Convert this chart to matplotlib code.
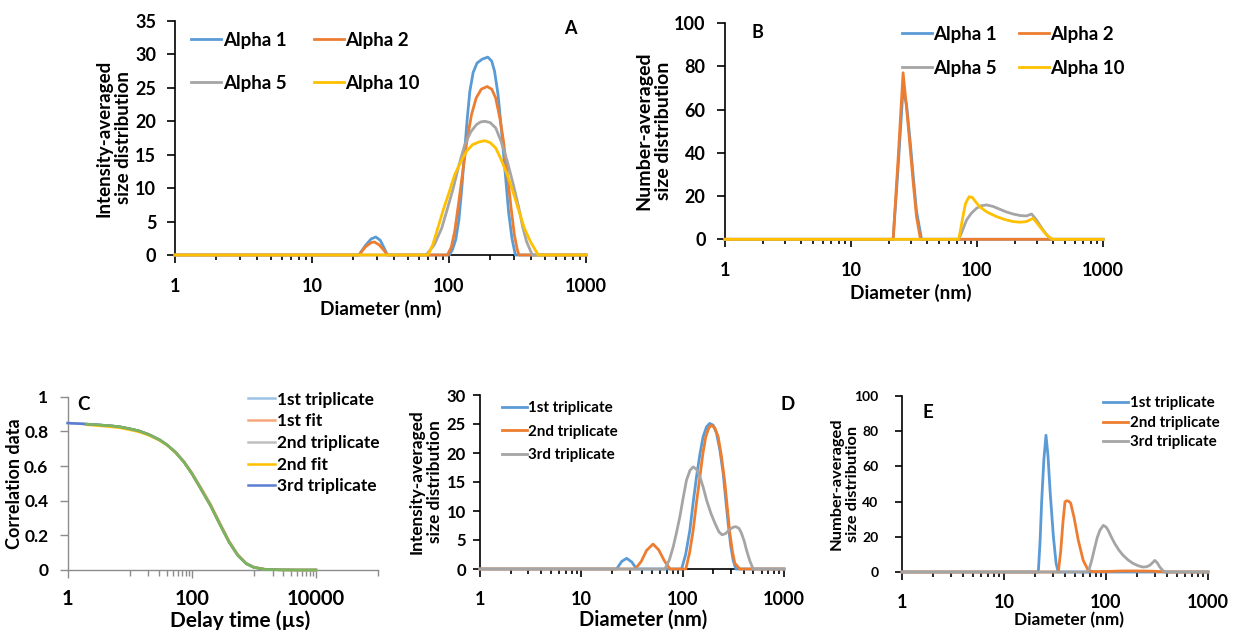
import matplotlib
matplotlib.use("Agg")
import matplotlib.pyplot as plt
from matplotlib.ticker import FixedLocator, FixedFormatter, NullFormatter

plt.rcParams['font.family'] = ['Lato', 'DejaVu Sans']
plt.rcParams['font.weight'] = 'bold'

# ---------------- data ----------------
# Panel A: intensity-averaged size distribution (diameter nm, %)
a1_d = [1, 22.0, 24.5, 27.0, 29.2, 31.5, 33.5, 35.5, 100.6, 106, 112, 118, 124, 130, 136, 142, 150,
        160, 175, 192, 205, 215, 228, 242, 258, 272, 288, 305, 1000]
a1_v = [0, 0, 1.4, 2.4, 2.7, 2.2, 1.1, 0, 0, 0.8, 2.3, 5.2, 10.0, 15.5, 20.5, 24.5, 27.3,
        28.7, 29.3, 29.6, 29.0, 27.5, 24.0, 18.5, 12.0, 6.5, 2.5, 0, 0]
a2_d = [1, 22.0, 24.5, 27.0, 28.5, 31.0, 33.5, 35.5, 97.5, 104, 110, 118, 127, 135, 146, 158, 172,
        190, 205, 219, 235, 250, 267, 284, 300, 315, 324, 1000]
a2_v = [0, 0, 1.2, 1.85, 1.95, 1.5, 0.7, 0, 0, 1.2, 3.5, 8.0, 13.0, 17.0, 21.0, 23.5, 24.8,
        25.2, 24.8, 23.5, 20.5, 17.0, 12.0, 7.0, 3.0, 0.8, 0, 0]
a5_d = [1, 68.2, 78, 88.4, 97, 107.4, 118, 130.4, 144, 158.5, 170, 182.7, 200, 219.3, 240, 266.3,
        295, 323.7, 345, 368.4, 405.7, 1000]
a5_v = [0, 0, 1.5, 4.0, 6.8, 10.0, 13.4, 16.5, 18.4, 19.5, 19.9, 20.0, 19.8, 19.0, 17.0, 14.0,
        10.5, 7.0, 4.2, 2.0, 0, 0]
a10_d = [1, 70.4, 76, 82.8, 91, 100.6, 110, 122.3, 134, 148.5, 165, 182.7, 200, 219.3, 240, 266.3,
         295, 323.7, 355, 393, 447.7, 1000]
a10_v = [0, 0, 1.5, 4.0, 6.8, 9.5, 12.0, 14.0, 15.5, 16.5, 16.9, 17.1, 16.8, 16.0, 14.3, 12.0,
         9.3, 6.6, 4.0, 2.0, 0, 0]

# Panel B: number-averaged size distribution
b1_d = [1, 21.6, 23.7, 25.9, 27.6, 29.3, 31.2, 33.1, 36.3, 1000]
b1_v = [0, 0, 34, 70, 62, 47, 29, 13, 0, 0]
b2_d = [1, 21.6, 23.7, 25.9, 27.6, 29.3, 31.2, 33.1, 35.6, 1000]
b2_v = [0, 0, 38, 77, 61, 44, 26, 10.5, 0, 0]
b5_d = [1, 71.7, 76, 82.6, 90, 99, 108, 119, 134, 151.6, 170, 193, 220, 247, 271, 297, 334, 377, 395, 1000]
b5_v = [0, 0, 3.5, 8.9, 12.0, 14.3, 15.5, 15.9, 15.2, 13.9, 12.7, 11.7, 11.0, 10.8, 11.7, 8.9, 4.3, 0.5, 0, 0]
b10_d = [1, 71.7, 77.6, 81, 86.6, 92, 97, 104.8, 120, 142.8, 165, 193, 220, 247, 279, 316, 356, 390, 400, 1000]
b10_v = [0, 0, 11.0, 16.5, 19.7, 19.3, 17.5, 15.1, 12.6, 10.5, 9.2, 8.2, 7.9, 8.2, 9.7, 5.8, 2.0, 0.3, 0, 0]

# Panel C: correlation functions (delay time us)
c_t = [1, 2, 3, 5, 7, 10, 14, 20, 30, 40, 55, 75, 100, 140, 200, 280, 400, 550, 750, 1000,
       1500, 2500, 5000, 10000]
c_trip1 = [0.848, 0.842, 0.838, 0.832, 0.826, 0.815, 0.803, 0.783, 0.752, 0.722, 0.678, 0.622, 0.557,
           0.468, 0.372, 0.267, 0.160, 0.085, 0.037, 0.015, 0.004, 0.001, 0, 0]
c_fit1 = [0.848, 0.842, 0.838, 0.832, 0.826, 0.815, 0.803, 0.783, 0.752, 0.722, 0.680, 0.626, 0.563,
          0.476, 0.381, 0.276, 0.167, 0.090, 0.040, 0.017, 0.005, 0.001, 0, 0]
c_trip2 = c_trip1
c_fit2 = [0.846, 0.838, 0.833, 0.826, 0.820, 0.809, 0.797, 0.778, 0.748, 0.719, 0.676, 0.621, 0.556,
          0.467, 0.371, 0.266, 0.159, 0.085, 0.037, 0.015, 0.004, 0.001, 0, 0]
c_trip3 = c_trip1
c_fit3 = c_trip1

# Panel D: intensity-averaged, triplicates
d1_d = [1, 22.3, 25, 28, 31.5, 35.1, 97.5, 107, 117.8, 127, 137, 148, 159, 172, 185, 200, 216, 233,
        251, 266, 281, 298, 315, 335, 1000]
d1_v = [0, 0, 1.3, 1.84, 1.2, 0, 0, 2.5, 6.7, 11.5, 15.9, 19.8, 22.8, 24.5, 25.1, 24.8, 23.4, 20.5,
        16.5, 12.0, 7.9, 4.0, 1.5, 0, 0]
d2_d = [1, 34, 39, 44, 51, 58, 66, 75, 107.5, 117, 127, 137, 148, 158, 169, 181, 193, 208, 224, 242,
        261, 276, 292, 310, 327, 366, 1000]
d2_v = [0, 0, 1.3, 3.2, 4.3, 3.3, 1.4, 0, 0, 2.8, 6.7, 11.5, 15.9, 19.8, 22.8, 24.3, 24.8, 24.3, 22.8,
        19.3, 14.8, 10.5, 6.2, 3.0, 1.0, 0, 0]
d3_d = [1, 66.7, 74, 80.6, 87, 93.8, 101, 109, 118, 127, 137, 148, 160, 172, 190, 208, 228, 245, 265,
        290, 315, 335, 360, 380, 405, 426, 460, 496, 1000]
d3_v = [0, 0, 1.6, 3.8, 6.3, 9.0, 12.2, 15.3, 17.0, 17.6, 17.2, 15.9, 14.0, 11.9, 9.6, 7.9, 6.4, 5.9,
        6.1, 6.8, 7.2, 7.3, 7.0, 6.2, 4.8, 3.3, 1.4, 0, 0]

# Panel E: number-averaged, triplicates
e1_d = [1, 21.7, 22.6, 23.4, 24.6, 25.8, 27.0, 28.3, 30.5, 32.4, 34.0, 1000]
e1_v = [0, 0, 18, 40, 64, 77.7, 66, 46, 20, 5, 0, 0]
e2_d = [1, 34.1, 36.0, 37.8, 39.6, 41.1, 43.0, 45.0, 48.5, 53.5, 59.8, 67, 75, 100, 150, 200, 260,
        330, 400, 1000]
e2_v = [0, 0, 12, 28, 39.8, 40.5, 40.2, 39.2, 31.3, 18, 6.6, 0.9, 0.2, 0.3, 0.6, 0.6, 0.5, 0.3, 0, 0]
e3_d = [1, 67, 72, 77.8, 82, 87.1, 94, 100, 105, 113, 122, 134, 147, 165, 185, 208, 231, 250, 269,
        285, 301, 318, 337, 360, 377, 1000]
e3_v = [0, 0, 6, 14.2, 19.5, 23.7, 26.5, 25.6, 23.7, 19.8, 16.1, 12.4, 9.5, 6.8, 4.8, 3.5, 2.8, 3.0,
        3.8, 5.2, 6.6, 5.2, 2.8, 0.9, 0, 0]

diam_ticks = [1, 10, 100, 1000]
diam_labels = ['1', '10', '100', '1000']
time_ticks = [1, 100, 10000]
time_labels = ['1', '100', '10000']

alpha_labels = ['Alpha 1', 'Alpha 2', 'Alpha 5', 'Alpha 10']
corr_labels = ['1st triplicate', '1st fit', '2nd triplicate', '2nd fit', '3rd triplicate']
trip_labels = ['1st triplicate', '2nd triplicate', '3rd triplicate']

BLUE, ORANGE, GRAY, YELLOW = '#5B9BD5', '#ED7D31', '#A5A5A5', '#FFC000'

# ---------------- figure ----------------
W, H = 1233, 630
fig = plt.figure(figsize=(W / 100, H / 100), dpi=100)


def px_axes(l, r, t, b):
    return fig.add_axes([l / W, 1 - b / H, (r - l) / W, (b - t) / H])


def fig_xy(x, y):
    return (x / W, 1 - y / H)


def style(ax, spine_color='black', lw=1.2):
    for s in ['top', 'right']:
        ax.spines[s].set_visible(False)
    for s in ['left', 'bottom']:
        ax.spines[s].set_color(spine_color)
        ax.spines[s].set_linewidth(lw)
        ax.spines[s].set_zorder(1)
    ax.tick_params(which='both', direction='out', color=spine_color, width=lw)


def diam_axis(ax, xfs, xpad):
    ax.set_xscale('log')
    ax.set_xlim(1, 1000)
    ax.xaxis.set_major_locator(FixedLocator(diam_ticks))
    ax.xaxis.set_major_formatter(FixedFormatter(diam_labels))
    ax.xaxis.set_minor_locator(FixedLocator([k * 10 ** e for e in range(3) for k in range(2, 10)]))
    ax.xaxis.set_minor_formatter(NullFormatter())
    ax.tick_params(axis='x', which='major', length=5.5, labelsize=xfs, pad=xpad)
    ax.tick_params(axis='x', which='minor', length=3.5)


def draw(ax, xs, ys, color, label=None, lw=2.0, alpha=1.0):
    ln, = ax.plot(xs, ys, color=color, lw=lw, label=label, clip_on=False, zorder=3,
                  solid_joinstyle='round', alpha=alpha)
    return ln


# ---- Panel A ----
axA = px_axes(175, 586, 21, 255)
style(axA)
diam_axis(axA, 13, 11)
axA.set_ylim(0, 35)
axA.set_yticks(range(0, 36, 5))
axA.tick_params(axis='y', length=5.5, labelsize=13, pad=8)
lA = [draw(axA, a1_d, a1_v, BLUE, alpha_labels[0]),
      draw(axA, a2_d, a2_v, ORANGE, alpha_labels[1]),
      draw(axA, a5_d, a5_v, GRAY, alpha_labels[2]),
      draw(axA, a10_d, a10_v, YELLOW, alpha_labels[3])]
axA.set_xlabel('Diameter (nm)', fontsize=13.8, fontweight='bold')
axA.xaxis.set_label_coords(0.5, -0.19)
axA.set_ylabel('Intensity-averaged\nsize distribution', fontsize=13.5, fontweight='bold',
               linespacing=1.2)
axA.yaxis.set_label_coords(-0.105, 0.5)
axA.legend([lA[0], lA[2], lA[1], lA[3]], [alpha_labels[0], alpha_labels[2], alpha_labels[1], alpha_labels[3]],
           ncol=2, loc='upper left', bbox_to_anchor=fig_xy(191, 32), bbox_transform=fig.transFigure,
           frameon=False, borderpad=0, borderaxespad=0, handlelength=1.6, handletextpad=0.1,
           columnspacing=1.45, labelspacing=1.37, prop={'size': 13.5, 'weight': 'bold'})
fig.text(*fig_xy(570, 28), 'A', ha='center', va='center', fontsize=13, fontweight='bold')

# ---- Panel B ----
axB = px_axes(725, 1103, 23, 239.3)
style(axB)
diam_axis(axB, 13, 11)
axB.set_ylim(0, 100)
axB.set_yticks(range(0, 101, 20))
axB.tick_params(axis='y', length=6, labelsize=13, pad=8)
lB = [draw(axB, b1_d, b1_v, BLUE, alpha_labels[0]),
      draw(axB, b2_d, b2_v, ORANGE, alpha_labels[1]),
      draw(axB, b5_d, b5_v, GRAY, alpha_labels[2]),
      draw(axB, b10_d, b10_v, YELLOW, alpha_labels[3])]
axB.set_xlabel('Diameter (nm)', fontsize=13.8, fontweight='bold')
axB.xaxis.set_label_coords(0.491, -0.205)
axB.set_ylabel('Number-averaged\nsize distribution', fontsize=14, fontweight='bold', linespacing=1.2)
axB.yaxis.set_label_coords(-0.141, 0.5)
axB.legend([lB[0], lB[2], lB[1], lB[3]], [alpha_labels[0], alpha_labels[2], alpha_labels[1], alpha_labels[3]],
           ncol=2, loc='upper left', bbox_to_anchor=fig_xy(901.7, 26), bbox_transform=fig.transFigure,
           frameon=False, borderpad=0, borderaxespad=0, handlelength=1.6, handletextpad=0.1,
           columnspacing=1.14, labelspacing=0.9, prop={'size': 13.5, 'weight': 'bold'})
fig.text(*fig_xy(757, 33), 'B', ha='center', va='center', fontsize=13, fontweight='bold')

# ---- Panel C ----
axC = px_axes(67.7, 378, 396.7, 570)
style(axC, spine_color='#8C8C8C', lw=1.0)
axC.set_xscale('log')
axC.set_xlim(1, 1e5)
axC.xaxis.set_major_locator(FixedLocator(time_ticks))
axC.xaxis.set_major_formatter(FixedFormatter(time_labels))
axC.xaxis.set_minor_locator(FixedLocator([k * 10 for k in range(1, 10)] + [k * 1000 for k in range(1, 10)] + [1e5]))
axC.xaxis.set_minor_formatter(NullFormatter())
axC.tick_params(axis='x', which='major', length=5.5, labelsize=14.5, pad=8.5)
axC.tick_params(axis='x', which='minor', length=4)
axC.set_ylim(0, 1)
axC.set_yticks([0, 0.2, 0.4, 0.6, 0.8, 1.0])
axC.set_yticklabels(['0', '0.2', '0.4', '0.6', '0.8', '1'])
axC.tick_params(axis='y', length=6, labelsize=12.5, pad=8)
lC = [draw(axC, c_t, c_trip1, '#9DC3E6', corr_labels[0], lw=1.8),
      draw(axC, c_t[1:], c_fit1[1:], '#F4A77A', corr_labels[1], lw=1.8),
      draw(axC, c_t, c_trip2, '#BFBFBF', corr_labels[2], lw=1.8),
      draw(axC, c_t[1:], c_fit2[1:], '#FFC000', corr_labels[3], lw=1.8),
      draw(axC, c_t, c_trip3, '#5B7FD0', corr_labels[4], lw=1.8)]
draw(axC, c_t[1:], c_fit3[1:], '#7DB55A', None, lw=1.8)
axC.set_xlabel('Delay time (µs)', fontsize=15, fontweight='bold')
axC.xaxis.set_label_coords(0.555, -0.235)
axC.set_ylabel('Correlation data', fontsize=13, fontweight='bold')
axC.yaxis.set_label_coords(-0.144, 0.5)
axC.legend(lC, corr_labels, loc='upper left', bbox_to_anchor=fig_xy(248.3, 391.5),
           bbox_transform=fig.transFigure, frameon=False, borderpad=0, borderaxespad=0,
           handlelength=1.55, handletextpad=0.1, labelspacing=0.33,
           prop={'size': 12.4, 'weight': 'bold'})
fig.text(*fig_xy(84, 405), 'C', ha='center', va='center', fontsize=13.5, fontweight='bold')

# ---- Panel D ----
axD = px_axes(480, 784, 395, 569)
style(axD)
diam_axis(axD, 13, 10)
axD.set_ylim(0, 30)
axD.set_yticks(range(0, 31, 5))
axD.tick_params(axis='y', length=5, labelsize=12, pad=5)
lD = [draw(axD, d1_d, d1_v, BLUE, trip_labels[0]),
      draw(axD, d2_d, d2_v, ORANGE, trip_labels[1]),
      draw(axD, d3_d, d3_v, GRAY, trip_labels[2])]
axD.set_xlabel('Diameter (nm)', fontsize=14.5, fontweight='bold')
axD.xaxis.set_label_coords(0.535, -0.235)
axD.set_ylabel('Intensity-averaged\nsize distribution', fontsize=12.4, fontweight='bold', linespacing=1.2)
axD.yaxis.set_label_coords(-0.121, 0.5)
axD.legend(lD, trip_labels, loc='upper left', bbox_to_anchor=fig_xy(501.7, 401),
           bbox_transform=fig.transFigure, frameon=False, borderpad=0, borderaxespad=0,
           handlelength=1.66, handletextpad=0.1, labelspacing=0.63,
           prop={'size': 10.9, 'weight': 'bold'})
fig.text(*fig_xy(788, 405), 'D', ha='center', va='center', fontsize=13.5, fontweight='bold')

# ---- Panel E ----
axE = px_axes(902, 1208, 396, 572)
style(axE)
diam_axis(axE, 13, 10)
axE.set_ylim(0, 100)
axE.set_yticks(range(0, 101, 20))
axE.tick_params(axis='y', length=5, labelsize=10, pad=12)
lE = [draw(axE, e1_d, e1_v, BLUE, trip_labels[0]),
      draw(axE, e2_d, e2_v, ORANGE, trip_labels[1]),
      draw(axE, e3_d, e3_v, GRAY, trip_labels[2])]
axE.set_xlabel('Diameter (nm)', fontsize=12.4, fontweight='bold')
axE.xaxis.set_label_coords(0.546, -0.228)
axE.set_ylabel('Number-averaged\nsize distribution', fontsize=11.8, fontweight='bold', linespacing=1.2)
axE.yaxis.set_label_coords(-0.137, 0.5)
axE.legend(lE, trip_labels, loc='upper left', bbox_to_anchor=fig_xy(1103, 396.5),
           bbox_transform=fig.transFigure, frameon=False, borderpad=0, borderaxespad=0,
           handlelength=1.66, handletextpad=0.1, labelspacing=0.35,
           prop={'size': 10.9, 'weight': 'bold'})
fig.text(*fig_xy(928, 413), 'E', ha='center', va='center', fontsize=13.5, fontweight='bold')

fig.savefig('out.png', dpi=100)
